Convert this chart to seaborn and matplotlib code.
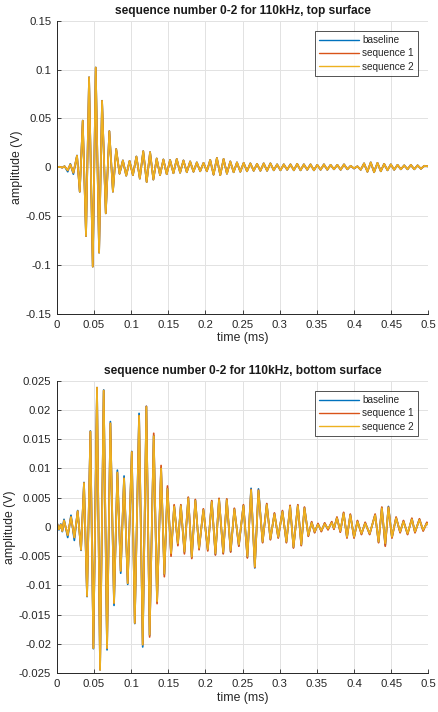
import numpy as np
import pandas as pd
import matplotlib
matplotlib.use("Agg")
import matplotlib.pyplot as plt
import seaborn as sns

# --- данные: экстремумы сигнала ---
top_time = [
    0.0000, 0.0040, 0.0075, 0.0105, 0.0148, 0.0183, 0.0224, 0.0273, 0.0310, 0.0350,
    0.0394, 0.0435, 0.0485, 0.0525, 0.0570, 0.0610, 0.0660, 0.0708, 0.0756, 0.0800,
    0.0845, 0.0890, 0.0935, 0.0980, 0.1025, 0.1072, 0.1118, 0.1164, 0.1210, 0.1256,
    0.1300, 0.1345, 0.1390, 0.1435, 0.1480, 0.1525, 0.1570, 0.1615, 0.1660, 0.1705,
    0.1750, 0.1795, 0.1840, 0.1885, 0.1930, 0.1975, 0.2020, 0.2065, 0.2110, 0.2155,
    0.2200, 0.2245, 0.2290, 0.2335, 0.2380, 0.2425, 0.2470, 0.2515, 0.2560, 0.2605,
    0.2650, 0.2695, 0.2740, 0.2785, 0.2830, 0.2875, 0.2920, 0.2965, 0.3010, 0.3055,
    0.3100, 0.3145, 0.3190, 0.3235, 0.3280, 0.3325, 0.3370, 0.3415, 0.3460, 0.3505,
    0.3550, 0.3595, 0.3640, 0.3685, 0.3730, 0.3775, 0.3820, 0.3865, 0.3910, 0.3955,
    0.4000, 0.4045, 0.4090, 0.4135, 0.4180, 0.4225, 0.4270, 0.4315, 0.4360, 0.4405,
    0.4450, 0.4495, 0.4540, 0.4585, 0.4630, 0.4675, 0.4720, 0.4765, 0.4810, 0.4855,
    0.4900, 0.4945, 0.5000,
]
top_seq2 = [
    0.0000, 0.0005, -0.0003, 0.0010, -0.0030, 0.0030, -0.0055, 0.0119, -0.0249, 0.0477,
    -0.0702, 0.0920, -0.1015, 0.1020, -0.0872, 0.0680, -0.0470, 0.0370, -0.0249, 0.0186,
    -0.0065, 0.0070, -0.0085, 0.0065, -0.0080, 0.0110, -0.0115, 0.0165, -0.0150, 0.0155,
    -0.0125, 0.0090, -0.0080, 0.0080, -0.0070, 0.0075, -0.0060, 0.0085, -0.0055, 0.0070,
    -0.0050, 0.0060, -0.0045, 0.0050, -0.0040, 0.0045, -0.0040, 0.0075, -0.0075, 0.0095,
    -0.0080, 0.0085, -0.0065, 0.0060, -0.0050, 0.0050, -0.0045, 0.0045, -0.0040, 0.0040,
    -0.0035, 0.0035, -0.0035, 0.0040, -0.0035, 0.0040, -0.0030, 0.0030, -0.0030, 0.0030,
    -0.0025, 0.0030, -0.0030, 0.0035, -0.0030, 0.0030, -0.0025, 0.0030, -0.0030, 0.0025,
    -0.0025, 0.0030, -0.0025, 0.0025, -0.0020, 0.0025, -0.0025, 0.0030, -0.0020, 0.0015,
    -0.0010, 0.0010, -0.0025, 0.0040, -0.0045, 0.0050, -0.0050, 0.0045, -0.0040, 0.0035,
    -0.0030, 0.0030, -0.0025, 0.0025, -0.0020, 0.0020, -0.0020, 0.0025, -0.0020, 0.0020,
    -0.0015, 0.0015, 0.0010,
]
top_seq1 = [
    0.0000, 0.0005, -0.0003, 0.0010, -0.0031, 0.0030, -0.0056, 0.0119, -0.0249, 0.0477,
    -0.0702, 0.0920, -0.1015, 0.1020, -0.0872, 0.0680, -0.0470, 0.0370, -0.0249, 0.0187,
    -0.0066, 0.0070, -0.0085, 0.0065, -0.0080, 0.0110, -0.0115, 0.0165, -0.0150, 0.0155,
    -0.0125, 0.0090, -0.0080, 0.0080, -0.0070, 0.0075, -0.0060, 0.0085, -0.0055, 0.0070,
    -0.0050, 0.0060, -0.0045, 0.0050, -0.0040, 0.0045, -0.0040, 0.0075, -0.0075, 0.0095,
    -0.0080, 0.0085, -0.0065, 0.0060, -0.0050, 0.0050, -0.0045, 0.0045, -0.0040, 0.0040,
    -0.0035, 0.0035, -0.0035, 0.0040, -0.0035, 0.0040, -0.0030, 0.0030, -0.0030, 0.0030,
    -0.0025, 0.0030, -0.0030, 0.0035, -0.0030, 0.0030, -0.0025, 0.0030, -0.0030, 0.0025,
    -0.0025, 0.0030, -0.0025, 0.0025, -0.0020, 0.0025, -0.0025, 0.0030, -0.0020, 0.0015,
    -0.0012, 0.0010, -0.0025, 0.0040, -0.0045, 0.0050, -0.0050, 0.0045, -0.0040, 0.0035,
    -0.0030, 0.0030, -0.0025, 0.0025, -0.0020, 0.0020, -0.0020, 0.0025, -0.0020, 0.0020,
    -0.0015, 0.0015, 0.0010,
]
top_baseline = [
    0.0000, 0.0006, -0.0004, 0.0012, -0.0045, 0.0036, -0.0070, 0.0121, -0.0251, 0.0478,
    -0.0703, 0.0921, -0.1016, 0.1021, -0.0873, 0.0681, -0.0471, 0.0371, -0.0250, 0.0187,
    -0.0066, 0.0071, -0.0086, 0.0066, -0.0081, 0.0111, -0.0116, 0.0166, -0.0151, 0.0156,
    -0.0126, 0.0091, -0.0081, 0.0081, -0.0071, 0.0076, -0.0061, 0.0086, -0.0056, 0.0071,
    -0.0051, 0.0061, -0.0046, 0.0051, -0.0041, 0.0046, -0.0041, 0.0076, -0.0076, 0.0096,
    -0.0081, 0.0086, -0.0066, 0.0061, -0.0051, 0.0051, -0.0046, 0.0046, -0.0041, 0.0041,
    -0.0036, 0.0036, -0.0036, 0.0041, -0.0036, 0.0041, -0.0031, 0.0031, -0.0031, 0.0031,
    -0.0026, 0.0031, -0.0031, 0.0036, -0.0031, 0.0031, -0.0026, 0.0031, -0.0031, 0.0026,
    -0.0026, 0.0031, -0.0026, 0.0026, -0.0021, 0.0026, -0.0026, 0.0031, -0.0021, 0.0016,
    -0.0013, 0.0011, -0.0026, 0.0041, -0.0046, 0.0051, -0.0051, 0.0046, -0.0041, 0.0036,
    -0.0031, 0.0031, -0.0026, 0.0026, -0.0021, 0.0021, -0.0021, 0.0026, -0.0021, 0.0021,
    -0.0016, 0.0016, 0.0010,
]

bottom_time = [
    0.0000, 0.0030, 0.0055, 0.0075, 0.0098, 0.0148, 0.0192, 0.0237, 0.0282, 0.0327,
    0.0367, 0.0408, 0.0453, 0.0493, 0.0542, 0.0583, 0.0632, 0.0677, 0.0722, 0.0771,
    0.0816, 0.0861, 0.0906, 0.0955, 0.1010, 0.1050, 0.1108, 0.1157, 0.1206, 0.1250,
    0.1305, 0.1350, 0.1404, 0.1448, 0.1490, 0.1538, 0.1580, 0.1630, 0.1670, 0.1718,
    0.1770, 0.1817, 0.1865, 0.1915, 0.1973, 0.2032, 0.2086, 0.2135, 0.2184, 0.2240,
    0.2288, 0.2340, 0.2390, 0.2450, 0.2512, 0.2565, 0.2615, 0.2665, 0.2714, 0.2770,
    0.2826, 0.2875, 0.2929, 0.2980, 0.3037, 0.3090, 0.3140, 0.3185, 0.3244, 0.3290,
    0.3333, 0.3385, 0.3430, 0.3470, 0.3515, 0.3560, 0.3605, 0.3650, 0.3700, 0.3730,
    0.3770, 0.3815, 0.3860, 0.3905, 0.3950, 0.4000, 0.4046, 0.4100, 0.4150, 0.4210,
    0.4284, 0.4330, 0.4374, 0.4420, 0.4463, 0.4510, 0.4566, 0.4620, 0.4665, 0.4720,
    0.4778, 0.4820, 0.4880, 0.4930, 0.4980, 0.5000,
]
bottom_seq2 = [
    0.0008, -0.0004, 0.0004, -0.0007, 0.0011, -0.0014, 0.0017, -0.0018, 0.0027, -0.0039,
    0.0075, -0.0118, 0.0163, -0.0207, 0.0238, -0.0244, 0.0233, -0.0207, 0.0177, -0.0130,
    0.0093, -0.0075, 0.0083, -0.0096, 0.0128, -0.0164, 0.0190, -0.0201, 0.0205, -0.0184,
    0.0155, -0.0127, 0.0100, -0.0080, 0.0065, -0.0045, 0.0035, -0.0028, 0.0036, -0.0042,
    0.0049, -0.0051, 0.0045, -0.0036, 0.0029, -0.0038, 0.0043, -0.0045, 0.0047, -0.0043,
    0.0046, -0.0040, 0.0030, -0.0030, 0.0036, -0.0050, 0.0063, -0.0068, 0.0062, -0.0025,
    0.0038, -0.0020, 0.0022, -0.0017, 0.0026, -0.0025, 0.0035, -0.0034, 0.0036, -0.0030,
    0.0032, -0.0014, 0.0007, -0.0008, 0.0004, -0.0006, 0.0005, -0.0003, 0.0007, -0.0002,
    0.0015, -0.0007, 0.0023, -0.0017, 0.0020, -0.0017, 0.0009, -0.0011, 0.0006, -0.0011,
    0.0020, -0.0025, 0.0032, -0.0028, 0.0033, -0.0017, 0.0015, -0.0008, 0.0009, -0.0011,
    0.0013, -0.0008, 0.0012, -0.0005, 0.0006, 0.0004,
]
bottom_seq1 = [
    0.0008, -0.0004, 0.0004, -0.0007, 0.0011, -0.0014, 0.0017, -0.0018, 0.0027, -0.0039,
    0.0075, -0.0118, 0.0163, -0.0207, 0.0238, -0.0244, 0.0233, -0.0207, 0.0177, -0.0130,
    0.0093, -0.0075, 0.0083, -0.0096, 0.0128, -0.0164, 0.0190, -0.0201, 0.0206, -0.0188,
    0.0160, -0.0131, 0.0105, -0.0085, 0.0070, -0.0050, 0.0038, -0.0032, 0.0038, -0.0046,
    0.0051, -0.0054, 0.0047, -0.0039, 0.0031, -0.0041, 0.0045, -0.0048, 0.0049, -0.0046,
    0.0048, -0.0043, 0.0032, -0.0033, 0.0038, -0.0053, 0.0064, -0.0069, 0.0063, -0.0027,
    0.0040, -0.0022, 0.0024, -0.0019, 0.0028, -0.0027, 0.0037, -0.0036, 0.0038, -0.0032,
    0.0034, -0.0016, 0.0009, -0.0010, 0.0006, -0.0008, 0.0007, -0.0005, 0.0009, -0.0004,
    0.0017, -0.0009, 0.0025, -0.0019, 0.0022, -0.0019, 0.0011, -0.0013, 0.0008, -0.0013,
    0.0022, -0.0027, 0.0034, -0.0033, 0.0034, -0.0019, 0.0017, -0.0010, 0.0011, -0.0013,
    0.0015, -0.0010, 0.0014, -0.0007, 0.0008, 0.0004,
]
bottom_baseline = [
    0.0009, -0.0005, 0.0005, -0.0008, 0.0013, -0.0018, 0.0020, -0.0023, 0.0028, -0.0040,
    0.0076, -0.0119, 0.0164, -0.0208, 0.0238, -0.0244, 0.0234, -0.0210, 0.0180, -0.0134,
    0.0097, -0.0079, 0.0087, -0.0098, 0.0129, -0.0165, 0.0194, -0.0205, 0.0206, -0.0185,
    0.0156, -0.0128, 0.0101, -0.0081, 0.0066, -0.0046, 0.0036, -0.0029, 0.0037, -0.0043,
    0.0050, -0.0052, 0.0046, -0.0037, 0.0030, -0.0039, 0.0044, -0.0047, 0.0048, -0.0045,
    0.0047, -0.0042, 0.0031, -0.0032, 0.0037, -0.0052, 0.0066, -0.0070, 0.0065, -0.0026,
    0.0039, -0.0021, 0.0023, -0.0018, 0.0027, -0.0026, 0.0036, -0.0035, 0.0037, -0.0031,
    0.0033, -0.0015, 0.0008, -0.0009, 0.0005, -0.0007, 0.0006, -0.0004, 0.0008, -0.0003,
    0.0016, -0.0008, 0.0024, -0.0018, 0.0021, -0.0018, 0.0010, -0.0012, 0.0007, -0.0012,
    0.0021, -0.0026, 0.0033, -0.0031, 0.0035, -0.0018, 0.0016, -0.0009, 0.0010, -0.0012,
    0.0014, -0.0009, 0.0013, -0.0006, 0.0007, 0.0004,
]

series_names = ['baseline', 'sequence 1', 'sequence 2']
colors = ['#0072BD', '#D95319', '#EDB120']


def long_df(time, values):
    frames = []
    for name, vals in zip(series_names, values):
        frames.append(pd.DataFrame({'time': time, 'amp': vals, 'series': name}))
    return pd.concat(frames, ignore_index=True)


top_df = long_df(top_time, [top_baseline, top_seq1, top_seq2])
bottom_df = long_df(bottom_time, [bottom_baseline, bottom_seq1, bottom_seq2])

sns.set_style("whitegrid")
plt.rcParams['font.family'] = ['Liberation Sans', 'DejaVu Sans']

fig = plt.figure(figsize=(4.38, 7.12), dpi=100)
ax_top = fig.add_axes([0.1295, 0.559, 0.8485, 0.412])
ax_bot = fig.add_axes([0.1295, 0.0544, 0.8485, 0.411])

panels = [
    (ax_top, top_df, 'sequence number 0-2 for 110kHz, top surface',
     (-0.15, 0.15), np.arange(-0.15, 0.151, 0.05),
     ['-0.15', '-0.1', '-0.05', '0', '0.05', '0.1', '0.15']),
    (ax_bot, bottom_df, 'sequence number 0-2 for 110kHz, bottom surface',
     (-0.025, 0.025), np.arange(-0.025, 0.0251, 0.005),
     ['-0.025', '-0.02', '-0.015', '-0.01', '-0.005', '0',
      '0.005', '0.01', '0.015', '0.02', '0.025']),
]

xticks = np.arange(0, 0.501, 0.05)
xlabels = ['0', '0.05', '0.1', '0.15', '0.2', '0.25', '0.3', '0.35', '0.4', '0.45', '0.5']

for ax, df, title, ylim, yticks, ylabels in panels:
    sns.lineplot(data=df, x='time', y='amp', hue='series', hue_order=series_names,
                 palette=colors, estimator=None, sort=False, linewidth=1.25, ax=ax)
    ax.set_xlim(0, 0.5)
    ax.set_ylim(*ylim)
    ax.set_xticks(xticks)
    ax.set_xticklabels(xlabels)
    ax.set_yticks(yticks)
    ax.set_yticklabels(ylabels)
    ax.set_title(title, fontsize=8.6, fontweight='bold', color='#1a1a1a', pad=5)
    ax.set_xlabel('time (ms)', fontsize=8.8, color='#262626', labelpad=2)
    ax.set_ylabel('amplitude (V)', fontsize=8.8, color='#262626', labelpad=2)
    ax.grid(True, color='#e2e2e2', linewidth=0.7)
    ax.tick_params(axis='both', direction='in', length=3, width=0.6, color='#262626',
                   labelsize=8.2, labelcolor='#262626', pad=4, bottom=True, left=True)
    for side in ['top', 'right']:
        ax.spines[side].set_visible(False)
    for side in ['left', 'bottom']:
        ax.spines[side].set_color('#262626')
        ax.spines[side].set_linewidth(0.7)
    leg = ax.legend(loc='upper right', fontsize=7.2, frameon=True, fancybox=False,
                    handlelength=4.0, handletextpad=0.3, borderpad=0.45,
                    labelspacing=0.32, borderaxespad=1.0)
    leg.get_frame().set_edgecolor('#262626')
    leg.get_frame().set_linewidth(0.7)
    for line in leg.get_lines():
        line.set_linewidth(1.0)

fig.savefig('out.png', dpi=100)
